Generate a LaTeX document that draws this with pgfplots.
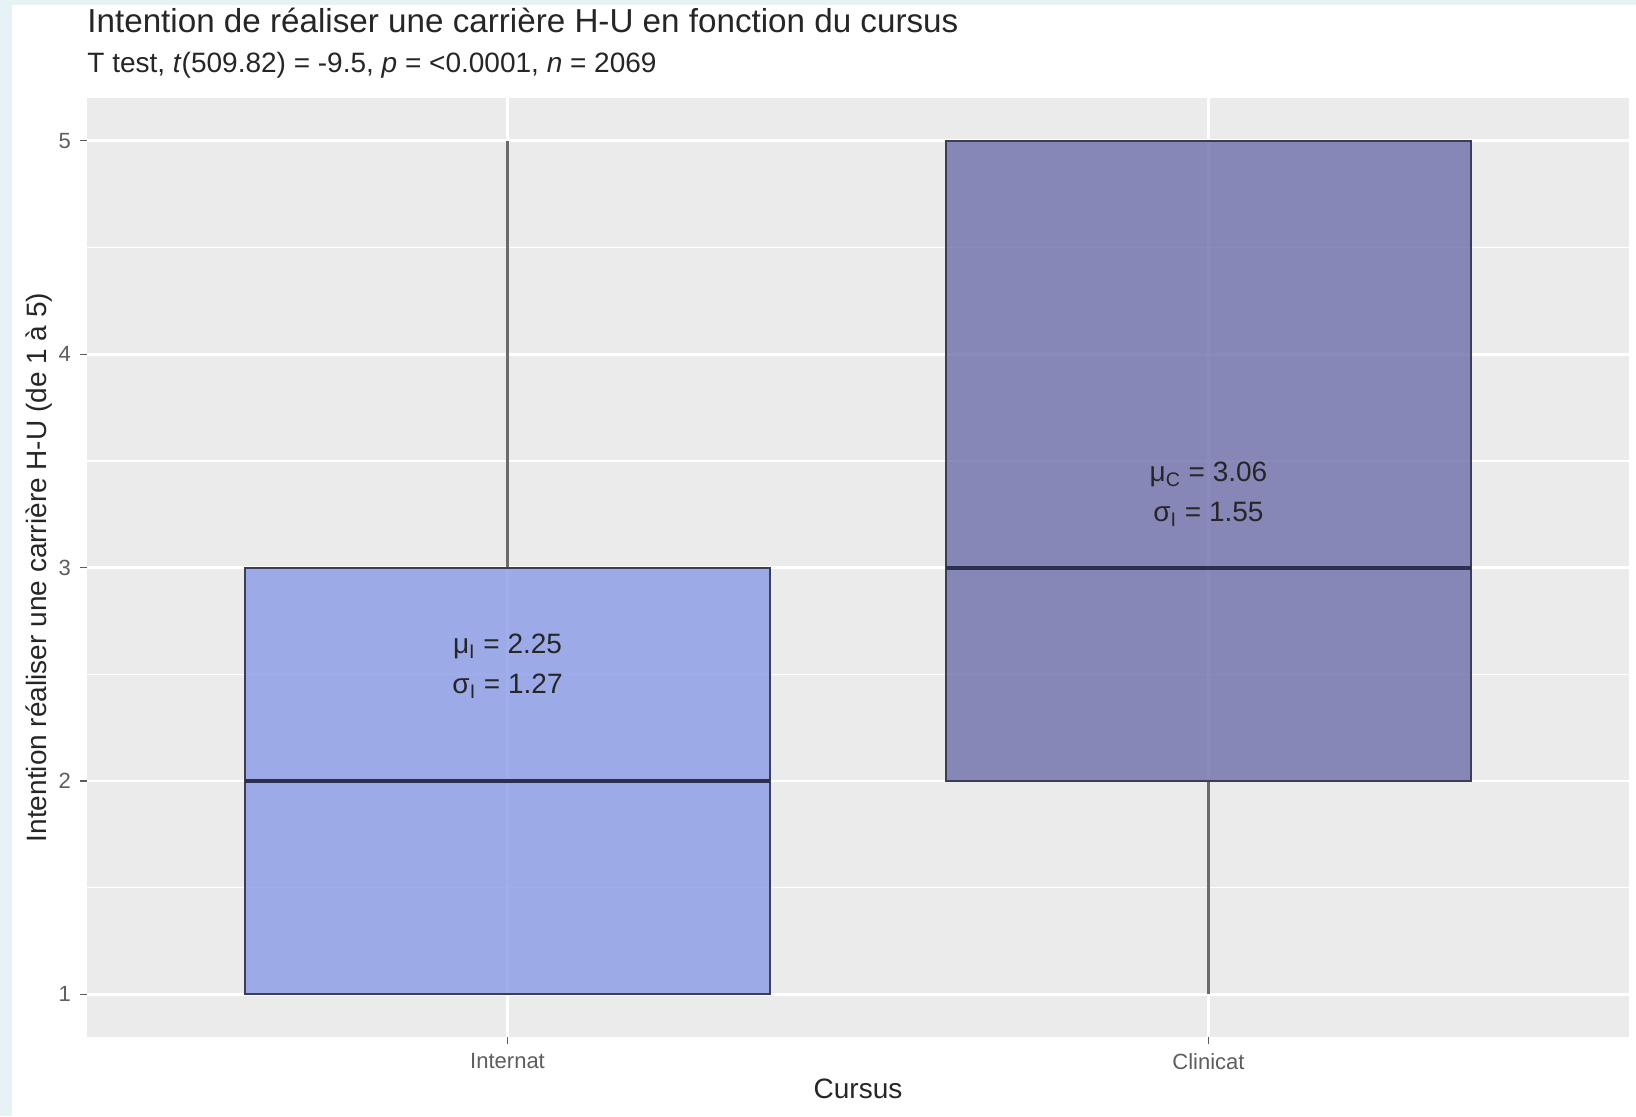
\documentclass[border=0pt]{standalone}
\usepackage{pgfplots}
\pgfplotsset{compat=1.18}
\usepgfplotslibrary{statistics}
\usepackage{fontspec}
\setmainfont{Liberation Sans}
\definecolor{panelbg}{HTML}{EBEBEB}
\definecolor{colI}{HTML}{8A9AE8}
\definecolor{colC}{HTML}{6D6DAB}
\definecolor{outl}{HTML}{3A3F55}
\definecolor{medc}{HTML}{2A3050}
\definecolor{whisk}{HTML}{6B6B6B}
\definecolor{ticklab}{HTML}{5E5E5E}
\definecolor{strip}{HTML}{E6F2F6}
\begin{document}
\begin{tikzpicture}
\fill[white] (-43.5pt,-39.5pt) rectangle (774.5pt,518.5pt);
\fill[strip] (-43.5pt,-39.5pt) rectangle (-37.5pt,518.5pt);
\fill[strip] (-43.5pt,516pt) rectangle (774.5pt,518.5pt);
\begin{axis}[
  at={(0pt,0pt)}, anchor=south west,
  scale only axis, width=771pt, height=469.5pt,
  xmin=0.4, xmax=2.6, ymin=0.8, ymax=5.2,
  axis background/.style={fill=panelbg},
  axis line style={draw=none},
  xtick={1,2}, xticklabels={Internat,Clinicat},
  ytick={1,2,3,4,5},
  minor ytick={1.5,2.5,3.5,4.5},
  xtick pos=bottom, ytick pos=left,
  tick align=outside,
  major tick length=3.5pt, minor tick length=0pt,
  tick style={draw=ticklab, line width=0.6pt},
  xmajorgrids, ymajorgrids, yminorgrids,
  major grid style={white, line width=1.4pt},
  minor grid style={white, line width=0.7pt},
  /pgf/number format/assume math mode=true,
  ticklabel style={font=\fontsize{11pt}{13pt}\selectfont, text=ticklab},
  xticklabel style={yshift=-1pt},
  yticklabel style={xshift=-1pt},
  xlabel={Cursus}, ylabel={Intention réaliser une carrière H-U (de 1 à 5)},
  label style={font=\fontsize{14pt}{16pt}\selectfont, text=black!85},
  xlabel style={at={(axis description cs:0.5,-0.0554)}, anchor=center},
  ylabel style={at={(axis description cs:-0.0311,0.5)}, anchor=center},
  clip=false,
  boxplot/draw direction=y,
  boxplot/every median/.style={draw=medc, line width=2pt},
  boxplot/every whisker/.style={draw=whisk, line width=1.2pt},
  boxplot/every box/.style={draw=outl, line width=1pt},
]
\addplot[boxplot prepared={lower whisker=1, lower quartile=1, median=2,
  upper quartile=3, upper whisker=5, draw position=1, box extend=0.75,
  whisker extend=0},
  fill=colI, fill opacity=0.8, draw=outl, line width=1pt] coordinates {};
\addplot[boxplot prepared={lower whisker=1, lower quartile=2, median=3,
  upper quartile=5, upper whisker=5, draw position=2, box extend=0.75,
  whisker extend=0},
  fill=colC, fill opacity=0.8, draw=outl, line width=1pt] coordinates {};
\node[font=\fontsize{14pt}{16pt}\selectfont, text=black!85] at (axis cs:1,2.628) {μ\textsubscript{I} = 2.25};
\node[font=\fontsize{14pt}{16pt}\selectfont, text=black!85] at (axis cs:1,2.443) {σ\textsubscript{I} = 1.27};
\node[font=\fontsize{14pt}{16pt}\selectfont, text=black!85] at (axis cs:2,3.435) {μ\textsubscript{C} = 3.06};
\node[font=\fontsize{14pt}{16pt}\selectfont, text=black!85] at (axis cs:2,3.249) {σ\textsubscript{I} = 1.55};
\end{axis}
\node[anchor=base west, inner sep=0pt, font=\fontsize{16.6pt}{19pt}\selectfont, text=black!85] at (0pt,502pt) {Intention de réaliser une carrière H-U en fonction du cursus};
\node[anchor=base west, inner sep=0pt, font=\fontsize{14pt}{16pt}\selectfont, text=black!85] at (0pt,482pt) {T test, \textit{t}(509.82) = -9.5, \textit{p} = <0.0001, \textit{n} = 2069};
\end{tikzpicture}
\end{document}
